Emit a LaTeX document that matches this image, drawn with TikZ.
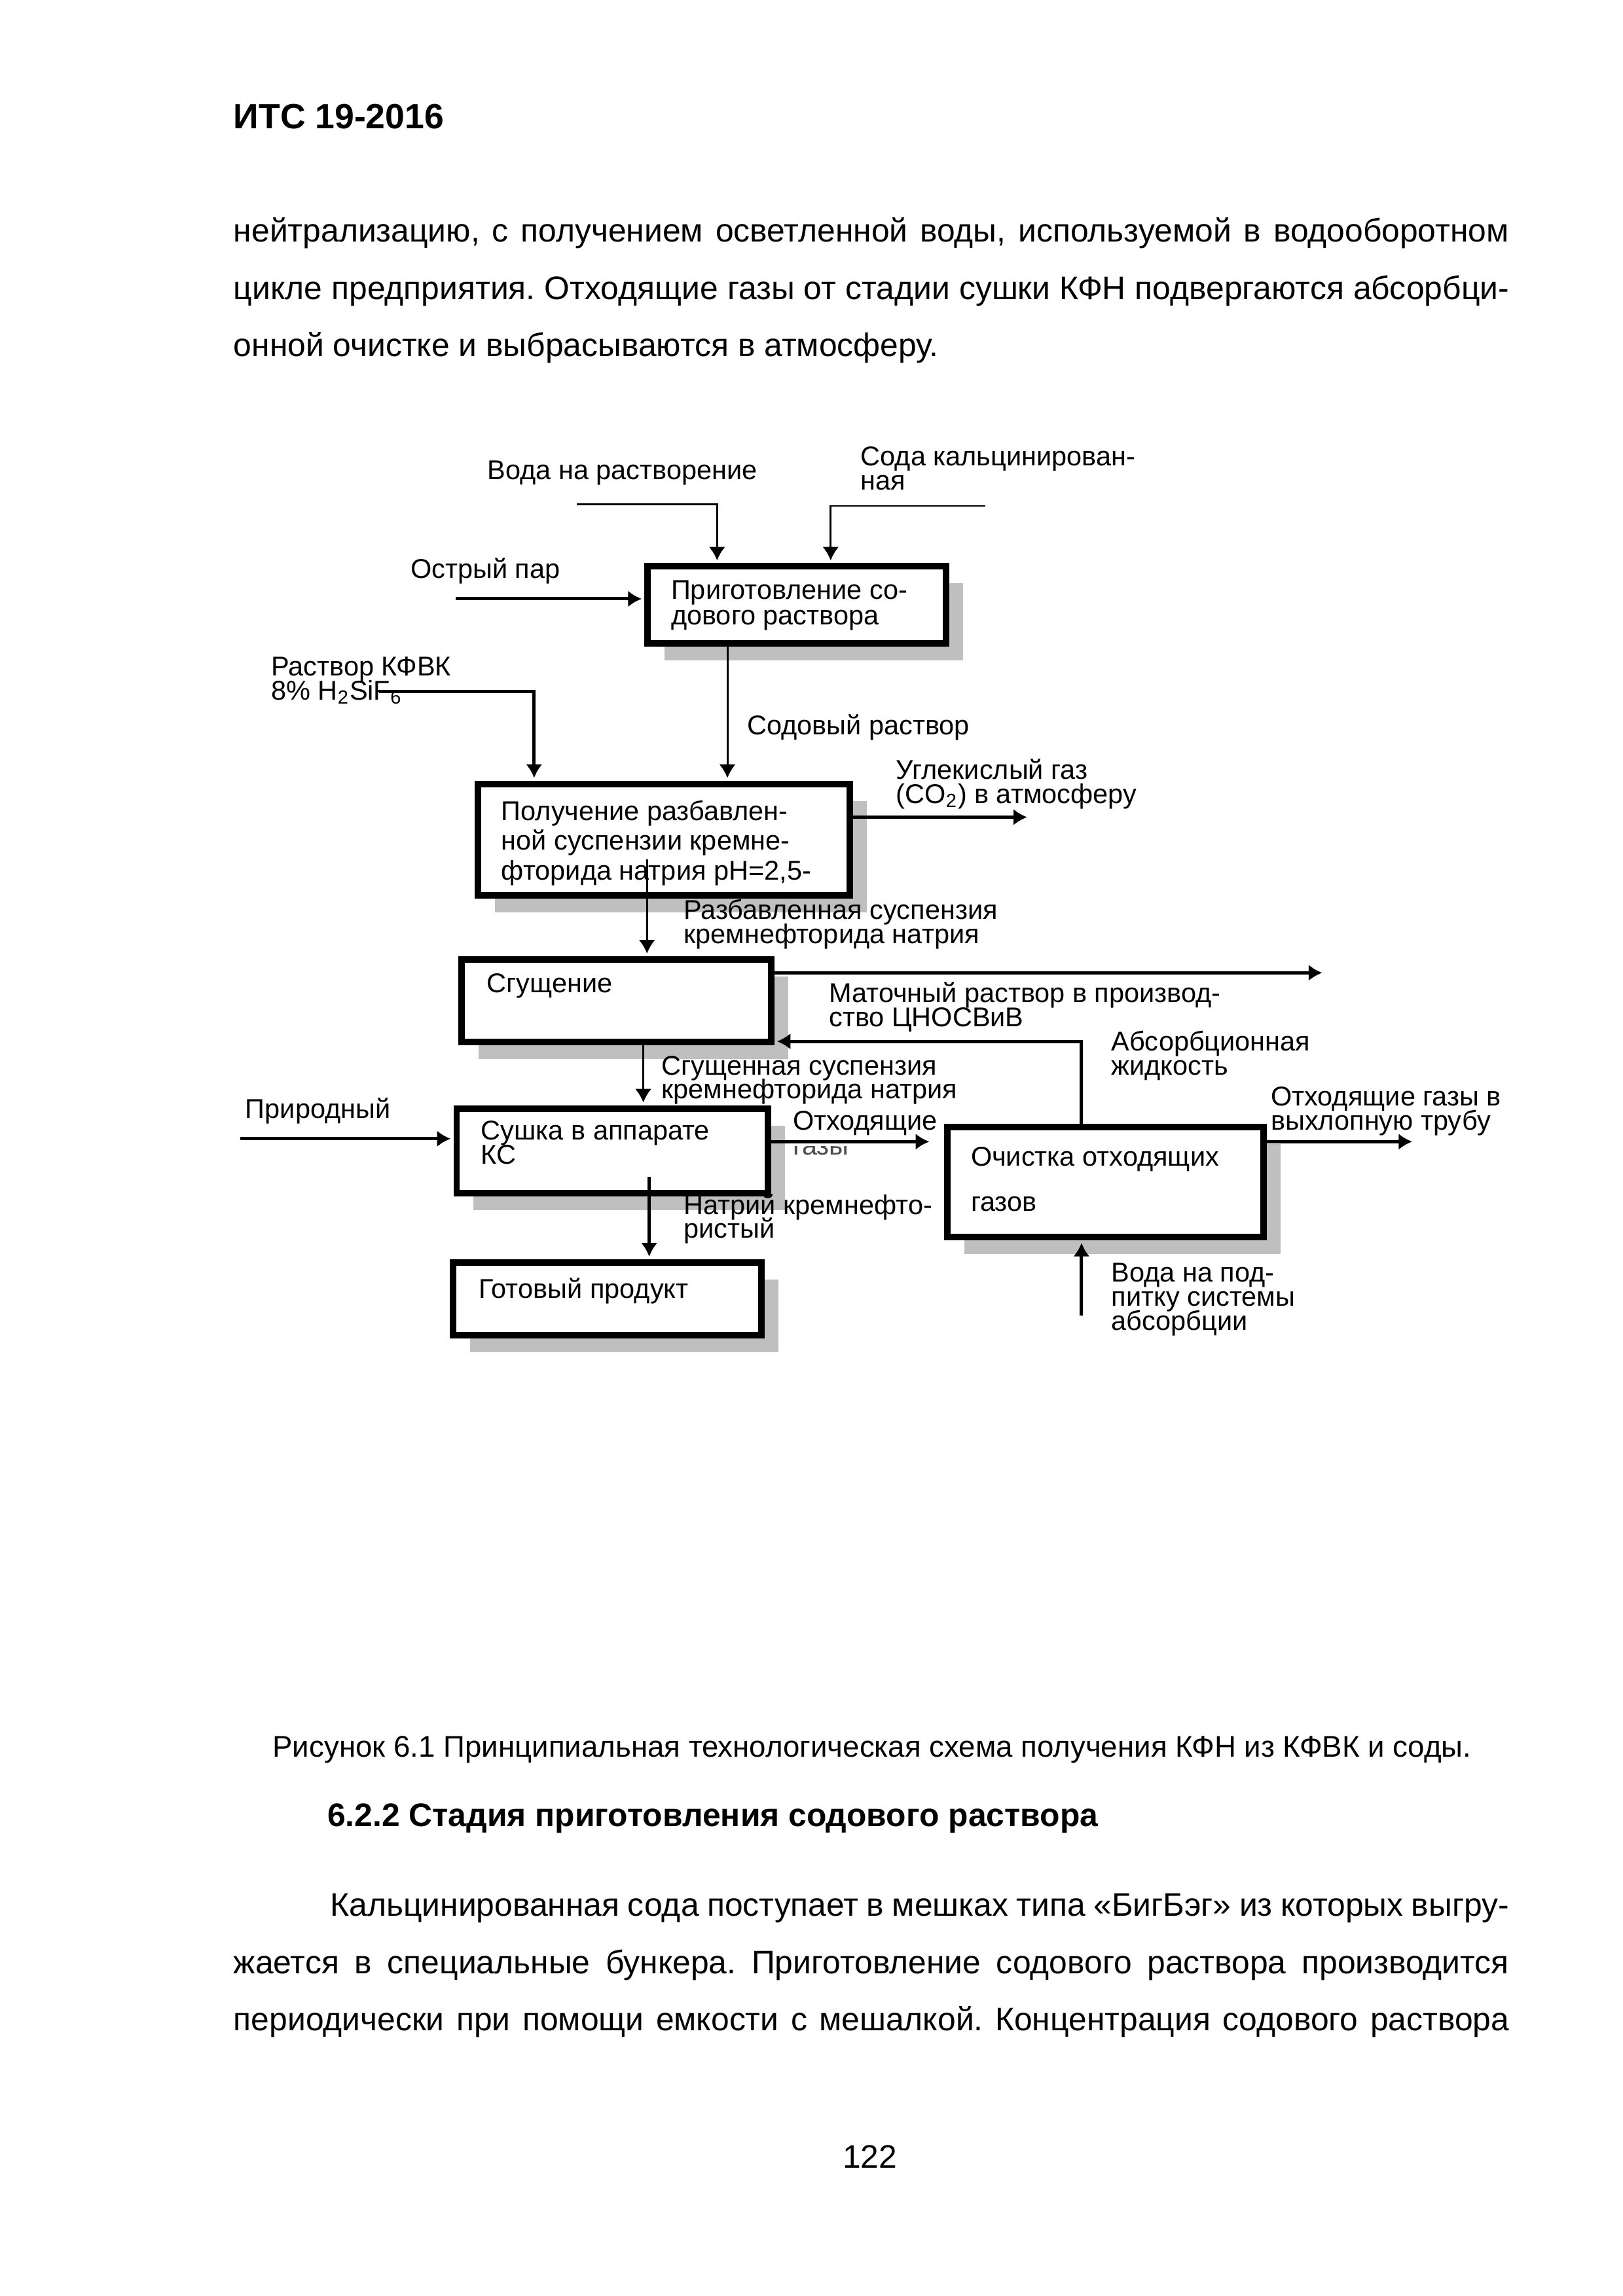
\documentclass[tikz,border=0pt]{standalone}
\usepackage{fontspec}
\setmainfont{Liberation Sans}
\usetikzlibrary{arrows.meta,shadows,fit}
\lineskiplimit=-\maxdimen
\frenchspacing
\begin{document}
\begin{tikzpicture}[x=0.019091cm, y=-0.019091cm,
    unit/.style={draw, line width=2.4pt, fill=white, inner sep=0pt,
      drop shadow={shadow xshift=0.22cm, shadow yshift=-0.22cm, fill=black!25, opacity=1}},
    lbl/.style={font=\fontsize{10pt}{8.9pt}\selectfont, align=left, inner sep=0pt, anchor=base west},
    thinflow/.style={line width=0.7pt, -{Latex[length=5pt,width=6pt]}, shorten >=1pt},
    flow/.style={line width=1.2pt, -{Latex[length=5pt,width=6pt]}, shorten >=1pt},
    pagetext/.style={font=\fontsize{12pt}{21.1pt}\selectfont, text width=16.5cm, align=justify, inner sep=0pt, anchor=base west}]
  \useasboundingbox (0,0) rectangle (1100,1556.6);

  \node[font=\bfseries\fontsize{12.9pt}{15pt}\selectfont, inner sep=0pt, anchor=base west] (itc) at (158,87) {ИТС 19-2016};
  \node[pagetext] (para1) at (158,164) {\tolerance=10000\hyphenpenalty=10000 нейтрализацию, с получением осветленной воды, используемой в водооборотном\linebreak цикле предприятия. Отходящие газы от стадии сушки КФН подвергаются абсорбци-\linebreak онной очистке и выбрасываются в атмосферу.};

  \node[unit, fit={(439,384) (641,436)}] (prep) {};
  \node[unit, fit={(324,531.5) (576,607)}] (dil) {};
  \node[unit, fit={(313,650.5) (522.5,706.5)}] (thk) {};
  \node[unit, fit={(309.5,751.5) (520.5,809)}] (dry) {};
  \node[unit, fit={(307,856) (516,905)}] (prod) {};
  \node[unit, fit={(642,764) (856.5,838.5)}] (clean) {};

  \node[lbl] (prept) at (454.5,423.5) {Приготовление со-\\[0.4pt]дового раствора};
  \node[lbl] (dilt) at (339.5,596.6) {Получение разбавлен-\\[2.1pt]ной суспензии кремне-\\[2.1pt]фторида натрия pH=2,5-};
  \node[lbl] (thkt) at (329.7,673) {Сгущение};
  \node[lbl] (dryt) at (325.7,789) {Сушка в аппарате\\КС};
  \node[lbl] (prodt) at (324,880) {Готовый продукт};
  \node[lbl] (cleant) at (657.7,821) {Очистка отходящих\\[7.6pt]газов};

  \coordinate (waterin) at (391,342);
  \coordinate (waterturn) at (486,342);
  \coordinate (sodain) at (668,343);
  \coordinate (sodaturn) at (563,343);
  \coordinate (steamin) at (309,406);
  \coordinate (acidin) at (257,469);
  \coordinate (acidturn) at (362,469);
  \coordinate (solcol) at (493,480);
  \coordinate (co2out) at (698,554);
  \coordinate (dilcol) at (438.5,582.5);
  \coordinate (liquorout) at (898,659.5);
  \coordinate (absturn) at (733,706);
  \coordinate (thkcol) at (436,730);
  \coordinate (naturalin) at (163,772);
  \coordinate (gaslvl) at (600,774);
  \coordinate (exhaustout) at (959,774);
  \coordinate (drycol) at (440,798);
  \coordinate (makeupin) at (733,892);

  \draw[thinflow] (waterin) -- (waterturn) -- (waterturn |- prep.north);
  \draw[thinflow] (sodain) -- (sodaturn) -- (sodaturn |- prep.north);
  \draw[flow] (steamin) -- (steamin -| prep.west);
  \draw[thinflow] (solcol |- prep.south) -- (solcol |- dil.north);
  \draw[flow] (acidin) -- (acidturn) -- (acidturn |- dil.north);
  \draw[flow] (dil.east |- co2out) -- (co2out);
  \draw[thinflow] (dilcol) -- (dilcol |- thk.north);
  \draw[flow] (thk.east |- liquorout) -- (liquorout);
  \draw[flow] (clean.north -| absturn) -- (absturn) -- (absturn -| thk.east);
  \draw[thinflow] (thkcol |- thk.south) -- (thkcol |- dry.north);
  \draw[flow] (naturalin) -- (naturalin -| dry.west);
  \draw[flow, shorten >=0.19cm] (dry.east |- gaslvl) -- (gaslvl -| clean.west);
  \draw[flow] (clean.east |- exhaustout) -- (exhaustout);
  \draw[flow] (drycol) -- (drycol |- prod.north);
  \draw[flow] (makeupin) -- (makeupin |- clean.south);

  \node[lbl] (waterl) at (330,325) {Вода на растворение};
  \node[lbl] (sodal) at (583,332) {Сода кальцинирован-\\ная};
  \node[lbl] (steaml) at (278,392) {Острый пар};
  \node[lbl] (acidl) at (183.5,474.5) {Раствор КФВК\\8\% H\textsubscript{2}SiF\textsubscript{6}};
  \node[lbl] (soll) at (506,498) {Содовый раствор};
  \node[lbl] (co2l) at (607,544.5) {Углекислый газ\\(CO\textsubscript{2}) в атмосферу};
  \node[lbl] (dill) at (463,639.7) {Разбавленная суспензия\\кремнефторида натрия};
  \node[lbl] (liquorl) at (561.5,696) {Маточный раствор в производ-\\ство ЦНОСВиВ};
  \node[lbl] (absl) at (753,729) {Абсорбционная\\жидкость};
  \node[lbl] (thkl) at (448,745) {Сгущенная суспензия\\кремнефторида натрия};
  \node[lbl] (naturall) at (166,758) {Природный};
  \node[lbl] (gasl) at (537,766) {Отходящие};
  \begin{scope}
    \clip (530,777) rectangle (590,792);
    \node[lbl, text=black!70] (gastail) at (537,783) {газы};
  \end{scope}
  \node[lbl] (exhaustl) at (861,766) {Отходящие газы в\\выхлопную трубу};
  \node[lbl] (nasfl) at (463,839.5) {Натрий кремнефто-\\ристый};
  \node[lbl] (makeupl) at (753,902) {Вода на под-\\питку системы\\абсорбции};

  \node[font=\fontsize{11pt}{13pt}\selectfont, inner sep=0pt, anchor=base] (fig) at (591,1191) {Рисунок 6.1 Принципиальная технологическая схема получения КФН из КФВК и соды.};
  \node[font=\bfseries\fontsize{12pt}{14pt}\selectfont, inner sep=0pt, anchor=base west] (sect) at (221.5,1238) {6.2.2 Стадия приготовления содового раствора};
  \node[pagetext] (para2) at (158,1299) {\tolerance=10000\hyphenpenalty=10000\hspace*{1.25cm}Кальцинированная сода поступает в мешках типа «БигБэг» из которых выгру-\linebreak жается в специальные бункера. Приготовление содового раствора производится\linebreak периодически при помощи емкости с мешалкой. Концентрация содового раствора\linebreak};
  \node[font=\fontsize{12pt}{14pt}\selectfont, inner sep=0pt, anchor=base] (pagenum) at (589.5,1470) {122};
\end{tikzpicture}
\end{document}
